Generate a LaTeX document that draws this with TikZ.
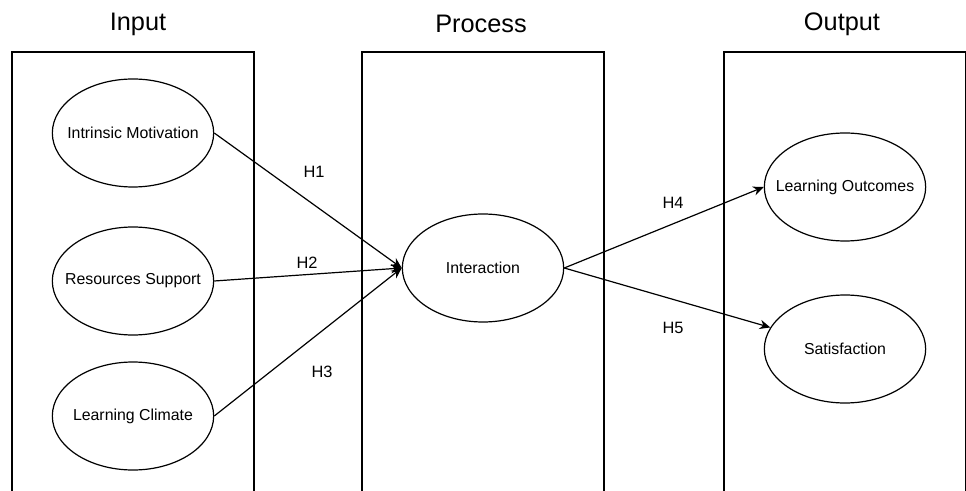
\documentclass[tikz,border=0pt]{standalone}
\usepackage{fontspec}
\setmainfont{Liberation Sans}
\usetikzlibrary{shapes,arrows,positioning,calc,arrows.meta}
\newcommand{\fixedlabel}[1]{\makebox[0pt]{#1}} % keep ellipse size independent of the text

\begin{document}
\begin{tikzpicture}[x=0.75pt,y=-0.75pt,
    construct/.style={draw,ellipse,line width=0.9pt,minimum width=121pt,minimum height=81pt,inner sep=0pt,font=\fontsize{11.9}{14}\selectfont},
    stagetitle/.style={font=\fontsize{19}{23}\selectfont},
    hyp/.style={font=\fontsize{12.3}{15}\selectfont},
    hyparrow/.style={line width=0.9pt,-{Stealth[length=8pt,width=7pt]}}]
    \useasboundingbox (0,0) rectangle (966,491);
    \foreach \x in {12,362,724} \draw[line width=0.9pt] (\x,491) -- (\x,52) -- (\x+242,52) -- (\x+242,491); % boxes run off the bottom
    \node[stagetitle] (input) at (138,24) {Input};
    \node[stagetitle] (process) at (481,24) {Process};
    \node[stagetitle] (output) at (842,24) {Output};

    \node[construct] (intrinsic) at (133,133) {\fixedlabel{Intrinsic Motivation}};
    \node[construct] (resources) at (133,281) {\fixedlabel{Resources Support}};
    \node[construct] (climate) at (133,416) {\fixedlabel{Learning Climate}};
    \node[construct] (interaction) at (483,268) {\fixedlabel{Interaction}};
    \node[construct] (outcomes) at (845,187) {\fixedlabel{Learning Outcomes}};
    \node[construct] (satisfaction) at (845,349) {\fixedlabel{Satisfaction}};

    \draw[hyparrow] (intrinsic.east) -- (interaction.west);
    \draw[hyparrow] (resources.east) -- (interaction.west);
    \draw[hyparrow] (climate.east) -- (interaction.west);
    \draw[hyparrow] (interaction.east) -- (outcomes.west);
    \draw[hyparrow] (interaction.east) -- (satisfaction);

    \node[hyp] (h1) at (314,172) {H1};
    \node[hyp] (h2) at (307,263) {H2};
    \node[hyp] (h3) at (322,372) {H3};
    \node[hyp] (h4) at (673,203) {H4};
    \node[hyp] (h5) at (673,328) {H5};
\end{tikzpicture}
\end{document}
